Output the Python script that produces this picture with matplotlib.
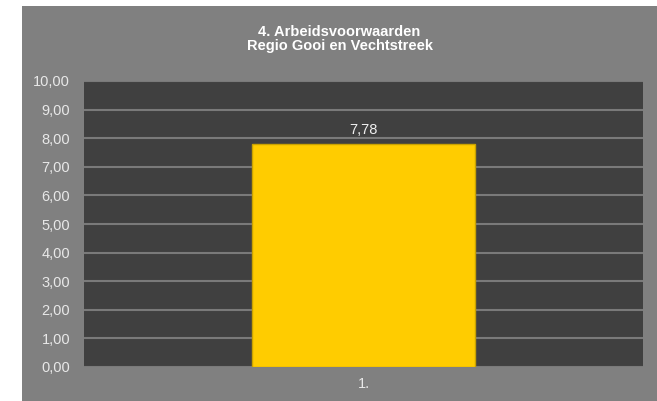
import matplotlib
matplotlib.use("Agg")
import matplotlib.pyplot as plt

categories = ["1."]
values = [7.78]
value_labels = ["7,78"]
yticks = [0, 1, 2, 3, 4, 5, 6, 7, 8, 9, 10]
ytick_labels = ["0,00", "1,00", "2,00", "3,00", "4,00", "5,00", "6,00", "7,00", "8,00", "9,00", "10,00"]
title = "4. Arbeidsvoorwaarden\nRegio Gooi en Vechtstreek"

plt.rcParams['font.family'] = ['Liberation Sans', 'DejaVu Sans']

W, H = 657, 401
fig = plt.figure(figsize=(W / 100, H / 100), dpi=100)
fig.patch.set_facecolor("white")

bg = fig.add_axes([22 / W, 0, 1 - 22 / W, (H - 6) / H], zorder=0)
bg.set_facecolor("#808080")
bg.set_xticks([])
bg.set_yticks([])
for s in bg.spines.values():
    s.set_visible(False)

ax = fig.add_axes([84 / W, (H - 367) / H, (643 - 84) / W, (367 - 81) / H], zorder=2)
ax.set_facecolor("#404040")
for s in ax.spines.values():
    s.set_visible(False)

x = list(range(len(categories)))
bars = ax.bar(x, values, width=0.4, color="#FFCC00", edgecolor="#C9A200", linewidth=1.0, zorder=3)
for b, lab in zip(bars, value_labels):
    ax.annotate(lab, (b.get_x() + b.get_width() / 2, b.get_height()), xytext=(0, 5.5),
                textcoords="offset points", ha="center", va="bottom", color="#f0f0f0", fontsize=10.5)

ax.set_xlim(-0.5, len(categories) - 0.5)
ax.set_ylim(0, 10)
ax.set_yticks(yticks)
ax.set_yticklabels(ytick_labels)
ax.set_xticks(x)
ax.set_xticklabels(categories)
ax.tick_params(axis="both", length=0, colors="#e8e8e8", labelsize=10.5)
ax.tick_params(axis="y", pad=10)
ax.tick_params(axis="x", pad=7.5)
ax.yaxis.grid(True, color="#7a7a7a", linewidth=1.5, zorder=1)
ax.set_axisbelow(True)

fig.text((22 + W) / 2 / W, (H - 39) / H, title, ha="center", va="center", color="white",
         fontsize=10.5, fontweight="bold", linespacing=1.0, zorder=5)

fig.savefig("out.png", dpi=100)
